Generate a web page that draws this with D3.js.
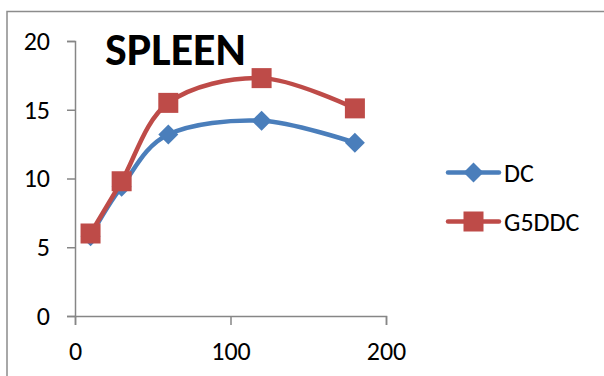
<!DOCTYPE html>
<html>
<head>
<meta charset="utf-8">
<script src="https://cdn.jsdelivr.net/npm/d3@7"></script>
<style>
  html, body { margin: 0; padding: 0; background: #fff; }
  svg { display: block; }
</style>
</head>
<body>
<svg id="chart" width="604" height="376"></svg>
<script>
// Spleen measurements over time, two groups
const times = [10, 30, 60, 120, 180];
const dcValues = [5.8, 9.4, 13.2, 14.2, 12.6];
const g5ddcValues = [6.0, 9.8, 15.5, 17.3, 15.1];
const seriesNames = ["DC", "G5DDC"];
const xTicks = [0, 100, 200];
const yTicks = [0, 5, 10, 15, 20];
const title = "SPLEEN";

const colors = { DC: "#4A7EBB", G5DDC: "#BE4B48" };
const font = "Carlito, Calibri, Lato, sans-serif";

const svg = d3.select("#chart");

// chart area frame (runs past the right and bottom edges)
svg.append("rect")
  .attr("x", 7).attr("y", 11.5)
  .attr("width", 640).attr("height", 400)
  .attr("fill", "none").attr("stroke", "#8c8c8c").attr("stroke-width", 1.5);

const x = d3.scaleLinear().domain([0, 200]).range([75, 386]);
const y = d3.scaleLinear().domain([0, 20]).range([316, 41]);

// y axis
const yAxis = svg.append("g").attr("transform", "translate(75,0)")
  .call(d3.axisLeft(y).tickValues(yTicks).tickSize(8).tickPadding(17));
// x axis
const xAxis = svg.append("g").attr("transform", "translate(0,316)")
  .call(d3.axisBottom(x).tickValues(xTicks).tickSize(9).tickPadding(17));

[yAxis, xAxis].forEach(g => {
  g.select(".domain").attr("stroke", "#868686").attr("stroke-width", 1.5);
  g.selectAll(".tick line").attr("stroke", "#868686").attr("stroke-width", 1.5);
  g.selectAll(".tick text")
    .attr("fill", "#000")
    .style("font-family", font)
    .style("font-size", "26px");
});

// title
svg.append("text")
  .attr("x", 105).attr("y", 65)
  .style("font-family", font)
  .style("font-weight", "bold")
  .style("font-size", "46px")
  .attr("fill", "#000")
  .text(title);

const series = [
  { name: seriesNames[0], values: dcValues, shape: "diamond" },
  { name: seriesNames[1], values: g5ddcValues, shape: "square" }
];

const line = d3.line()
  .x(d => x(d[0]))
  .y(d => y(d[1]))
  .curve(d3.curveCardinal.tension(0));

function marker(g, shape, color) {
  if (shape === "diamond") {
    g.append("path").attr("d", "M0,-10L10,0L0,10L-10,0Z").attr("fill", color);
  } else {
    g.append("rect").attr("x", -10).attr("y", -10).attr("width", 20).attr("height", 20)
      .attr("fill", color);
  }
}

series.forEach(s => {
  const pts = times.map((t, i) => [t, s.values[i]]);
  svg.append("path")
    .datum(pts)
    .attr("d", line)
    .attr("fill", "none")
    .attr("stroke", colors[s.name])
    .attr("stroke-width", 4.5)
    .attr("stroke-linecap", "round")
    .attr("stroke-linejoin", "round");
  pts.forEach(p => {
    const g = svg.append("g").attr("transform", `translate(${x(p[0])},${y(p[1])})`);
    marker(g, s.shape, colors[s.name]);
  });
});

// legend
const legend = svg.append("g");
series.forEach((s, i) => {
  const ly = 172.5 + i * 49;
  legend.append("line")
    .attr("x1", 448).attr("x2", 499).attr("y1", ly).attr("y2", ly)
    .attr("stroke", colors[s.name]).attr("stroke-width", 4.5)
    .attr("stroke-linecap", "round");
  const g = legend.append("g").attr("transform", `translate(473.5,${ly})`);
  marker(g, s.shape, colors[s.name]);
  legend.append("text")
    .attr("x", 504).attr("y", ly + 9)
    .style("font-family", font)
    .style("font-size", "26px")
    .attr("fill", "#000")
    .text(s.name);
});
</script>
</body>
</html>
